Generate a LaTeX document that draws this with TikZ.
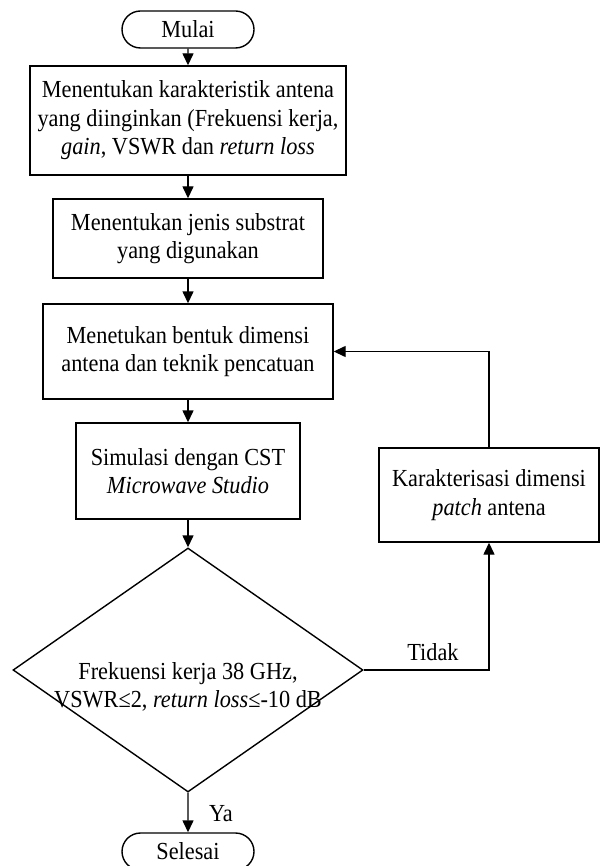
\documentclass[tikz,border=0pt]{standalone}
\usepackage{fontspec}
\setmainfont{Liberation Serif}[FakeStretch=0.91]
\usetikzlibrary{shapes.geometric,shapes.misc,arrows.meta}
\begin{document}
\begin{tikzpicture}[x=1pt,y=-1pt,
  every node/.style={font=\fontsize{24.5}{28.5}\selectfont},
  box/.style={draw, line width=1.4pt, align=center, inner sep=0pt},
  term/.style={draw, line width=1.4pt, rounded rectangle, minimum width=132pt, minimum height=37pt, inner sep=0pt},
  arr/.style={line width=1.4pt, -{Triangle[length=12pt,width=11pt]}},
  lbl/.style={inner sep=0pt}]
\useasboundingbox (0,0) rectangle (600,866);
\node[term] (mulai) at (188,29.5) {Mulai};
\node[box, minimum width=316pt, minimum height=109pt] (b1) at (188,120.5)
  {Menentukan karakteristik antena\\yang diinginkan (Frekuensi kerja,\\\textit{gain}, VSWR dan \textit{return loss}};
\node[box, minimum width=270pt, minimum height=79pt] (b2) at (188,238.5)
  {Menentukan jenis substrat\\yang digunakan};
\node[box, minimum width=290pt, minimum height=95pt] (b3) at (188,351.5)
  {Menetukan bentuk dimensi\\antena dan teknik pencatuan};
\node[box, minimum width=224pt, minimum height=96pt] (b4) at (188,471)
  {Simulasi dengan CST\\\textit{Microwave Studio}};
\node[draw, diamond, line width=1.4pt, minimum width=350pt, minimum height=244pt, inner sep=0pt] (dia) at (188,670) {};
\node[align=center, inner sep=0pt] (dtext) at (188,687)
  {Frekuensi kerja 38 GHz,\\VSWR≤2, \textit{return loss}≤-10 dB};
\node[box, minimum width=220pt, minimum height=94pt] (b5) at (489,495)
  {Karakterisasi dimensi\\\textit{patch} antena};
\node[term] (selesai) at (188,851.5) {Selesai};
\node[lbl] (tidak) at (433,652) {Tidak};
\node[lbl] (ya) at (221,814) {Ya};
\draw[arr] (mulai) -- (b1);
\draw[arr] (b1) -- (b2);
\draw[arr] (b2) -- (b3);
\draw[arr] (b3) -- (b4);
\draw[arr] (b4) -- (dia.north);
\draw[arr] (dia.east) -| (b5.south);
\draw[arr] (b5.north) |- (b3.east);
\draw[arr] (dia.south) -- (selesai);
\end{tikzpicture}
\end{document}
